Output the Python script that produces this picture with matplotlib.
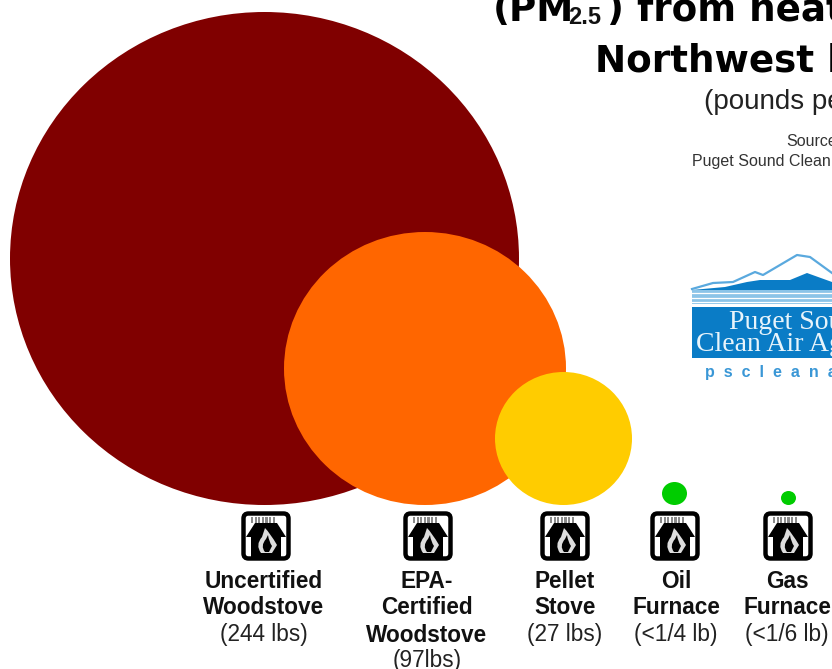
import matplotlib
matplotlib.use("Agg")
import matplotlib.pyplot as plt
from matplotlib.patches import Ellipse, FancyBboxPatch, Polygon, PathPatch, Rectangle
from matplotlib.path import Path

# ---- data ----
categories = [["Uncertified", "Woodstove"], ["EPA-", "Certified", "Woodstove"],
              ["Pellet", "Stove"], ["Oil", "Furnace"], ["Gas", "Furnace"]]
amount_labels = ["(244 lbs)", "(97lbs)", "(27 lbs)", "(<1/4 lb)", "(<1/6 lb)"]
emissions_lbs = [244, 97, 27, 0.25, 1 / 6]
bubble_colors = ["#800000", "#ff6600", "#ffcc00", "#00cc00", "#00cc00"]

# ---- layout (pixels) ----
W, H = 832, 669
bubble_cx = [264.5, 425, 563.5, 674.5, 788.5]
bubble_w = [509, 282, 137, 25, 15]
bubble_h = [493, 273, 133, 23, 14]
bubble_bottom = 505
icon_cx = [266, 428, 565, 675, 788]
icon_cy = 536
label_cx = [264, 427, 565, 676, 787]
line_y = [581, 607, 635, 660]

plt.rcParams["font.family"] = ["Liberation Sans", "DejaVu Sans"]
fig = plt.figure(figsize=(W / 100, H / 100), dpi=100)
ax = fig.add_axes([0, 0, 1, 1])
ax.set_xlim(0, W)
ax.set_ylim(H, 0)
ax.axis("off")

order = sorted(range(len(emissions_lbs)), key=lambda i: -emissions_lbs[i])
for z, i in enumerate(order):
    h = bubble_h[i]
    ax.add_patch(Ellipse((bubble_cx[i], bubble_bottom - h / 2), bubble_w[i], h,
                         fc=bubble_colors[i], ec="none", zorder=2 + z * 0.1))


def icon(cx, cy):
    ax.add_patch(FancyBboxPatch((cx - 22.5, cy - 22.5), 45, 45, boxstyle="round,pad=0,rounding_size=5",
                                fc="white", ec="black", lw=3.2, zorder=5))
    ax.add_patch(Polygon([(cx - 20, cy + 1), (cx - 11, cy - 13), (cx + 11, cy - 13), (cx + 20, cy + 1),
                          (cx + 15, cy + 1), (cx + 15, cy + 22), (cx - 15, cy + 22), (cx - 15, cy + 1)],
                         fc="black", ec="none", zorder=6))
    for k in range(7):
        ax.add_patch(Rectangle((cx - 15 + k * 3.6, cy - 19), 2.2, 6, fc="#8a8a8a", ec="none", zorder=6))
    outer = Path([(cx - 5, cy + 17), (cx - 11, cy + 9), (cx - 4, cy + 1), (cx - 1, cy - 8),
                  (cx + 4, cy - 3), (cx + 11, cy + 9), (cx + 6, cy + 17), (cx - 5, cy + 17)],
                 [Path.MOVETO, Path.CURVE3, Path.CURVE3, Path.LINETO, Path.CURVE3, Path.CURVE3, Path.LINETO, Path.CLOSEPOLY])
    ax.add_patch(PathPatch(outer, fc="#dddddd", ec="none", zorder=7))
    inner = Path([(cx - 1, cy + 16), (cx - 6, cy + 10), (cx, cy + 3), (cx + 2, cy - 1),
                  (cx + 3, cy + 6), (cx + 6, cy + 10), (cx + 3, cy + 16), (cx - 1, cy + 16)],
                 [Path.MOVETO, Path.CURVE3, Path.CURVE3, Path.LINETO, Path.CURVE3, Path.CURVE3, Path.LINETO, Path.CLOSEPOLY])
    ax.add_patch(PathPatch(inner, fc="black", ec="none", zorder=8))


for cx in icon_cx:
    icon(cx, icon_cy)

for cx, lines, amount in zip(label_cx, categories, amount_labels):
    for i, t in enumerate(lines):
        ax.text(cx, line_y[i], t, ha="center", va="center", fontsize=16.3, fontweight="bold", color="#111111", zorder=9)
    ax.text(cx, line_y[len(lines)], amount, ha="center", va="center", fontsize=16.3, color="#222222", zorder=9)

# ---- title block, cut off by the picture's edges as in the reference ----
tf = dict(family="DejaVu Sans", fontweight="bold", color="black", va="baseline", ha="left", fontsize=26.8)
ax.text(493, 21, "(PM", **tf)
ax.text(568, 24, "2.5", family="Liberation Sans", fontweight="bold", fontsize=17, va="baseline", ha="left", color="#111111")
ax.text(607, 21, ") from heating", **tf)
ax.text(595, 72, "Northwest homes", **tf)
ax.text(704, 109, "(pounds per year)", fontsize=20, color="#222222", va="baseline", ha="left")
ax.text(786, 146, "Source:", fontsize=11.5, color="#333333", va="baseline", ha="left")
ax.text(692, 166, "Puget Sound Clean Air Agency", fontsize=11.5, color="#333333", va="baseline", ha="left")

# ---- logo ----
blue = "#0a7cc6"
light = "#8cc4e8"
ax.add_patch(Polygon([(692, 290), (725, 287), (747, 282), (760, 280), (790, 280), (807, 273), (832, 282), (832, 290)], fc=blue, ec="none"))
ax.plot([692, 713, 733, 755, 763, 780, 797, 810, 832], [289, 283, 282, 272, 275, 265, 255, 257, 273], color="#5aa9de", lw=1.6)
ax.add_patch(Rectangle((692, 290), 140, 13.5, fc=light, ec="none"))
for y in [293, 297.5, 302]:
    ax.plot([692, 832], [y, y], color="white", lw=0.9)
ax.add_patch(Rectangle((692, 307), 140, 51, fc=blue, ec="none"))
ax.text(729, 329, "Puget Sound", family="Liberation Serif", fontsize=20, color="#e8f4fb", va="baseline", ha="left")
ax.text(696, 351, "Clean Air Agency", family="Liberation Serif", fontsize=20, color="#e8f4fb", va="baseline", ha="left")
ax.text(705, 377, "p  s  c  l  e  a  n  a  i  r  .  o  r  g", fontsize=11.5, fontweight="bold", color="#3a97d6", va="baseline", ha="left")

fig.savefig("out.png", dpi=100, facecolor="white")
